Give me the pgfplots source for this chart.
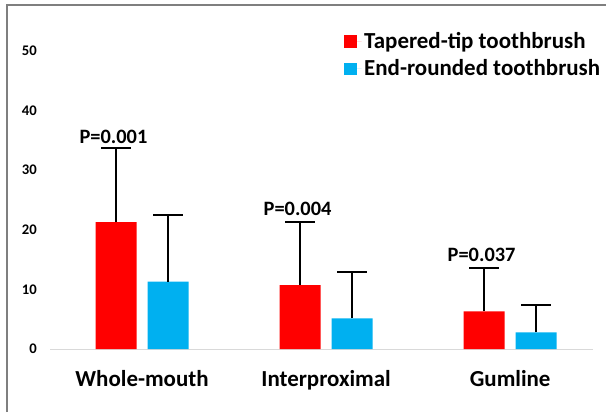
\documentclass[border=0pt]{standalone}
\usepackage{fontspec}
\setmainfont{Carlito}
\usepackage{pgfplots}
\usepackage{pgfplotstable}
\pgfplotsset{compat=1.18}
\definecolor{tred}{HTML}{FF0000}
\definecolor{tcyan}{HTML}{00B0F0}
\definecolor{framegray}{HTML}{7F7F7F}
\pgfplotstableread{
x y ep
0 21.3 12.5
1 10.7 10.6
2 6.3 7.3
}\tapered
\pgfplotstableread{
x y ep
0 11.3 11.2
1 5.15 7.75
2 2.8 4.6
}\rounded
\begin{document}
\begin{tikzpicture}
\begin{axis}[
  scale only axis, width=407.25pt, height=223.5pt,
  at={(37.5pt,-261.75pt)}, anchor=south west,
  xmin=-0.5, xmax=2.45, ymin=0, ymax=50,
  ybar=8.25pt, bar width=30.75pt,
  axis x line*=bottom, axis y line*=left,
  x axis line style={-, draw=black!15, line width=0.75pt},
  y axis line style={draw=none},
  major tick length=0,
  ytick={0,10,...,50},
  xtick={0,1,2}, xticklabels={Whole-mouth,Interproximal,Gumline},
  /pgf/number format/assume math mode=true,
  yticklabel style={font=\fontsize{11}{13}\selectfont\bfseries, anchor=east, inner sep=0pt, xshift=-9.75pt},
  xticklabel style={font=\fontsize{17.2}{20}\selectfont\bfseries, anchor=base, inner sep=0pt, yshift=-27.75pt},
  error bars/y dir=plus, error bars/y explicit,
  error bars/error bar style={draw=black, line width=1.5pt},
  error bars/error mark options={draw=black, rotate=90, mark size=11.25pt, line width=1.5pt},
  legend image code/.code={\fill[#1] (0pt,-4.75pt) rectangle (9.5pt,4.75pt); \path (0pt,0pt) -- (13pt,0pt);},
  legend style={at={(0.534,1.082)}, anchor=north west, draw=none, fill=none,
    font=\fontsize{17.2}{20}\selectfont\bfseries, row sep=3.2pt},
  legend cell align=left,
  clip=false,
]
\addplot[fill=tred, draw=none] table[x=x, y=y, y error plus=ep] {\tapered};
\addplot[fill=tcyan, draw=none] table[x=x, y=y, y error plus=ep] {\rounded};
\legend{Tapered-tip toothbrush, End-rounded toothbrush}
\node[font=\fontsize{15.3}{18}\selectfont\bfseries, anchor=base, inner sep=0pt] at (axis cs:-0.155,34.56) {P=0.001};
\node[font=\fontsize{15.3}{18}\selectfont\bfseries, anchor=base, inner sep=0pt] at (axis cs:0.845,22.48) {P=0.004};
\node[font=\fontsize{15.3}{18}\selectfont\bfseries, anchor=base, inner sep=0pt] at (axis cs:1.845,14.65) {P=0.037};
\end{axis}
\draw[framegray, line width=1.5pt] (5.25pt,-309pt) -- (5.25pt,-3.75pt) -- (454.5pt,-3.75pt);
\pgfresetboundingbox
\useasboundingbox (0pt,0pt) rectangle (454.5pt,-309pt);
\end{tikzpicture}
\end{document}
